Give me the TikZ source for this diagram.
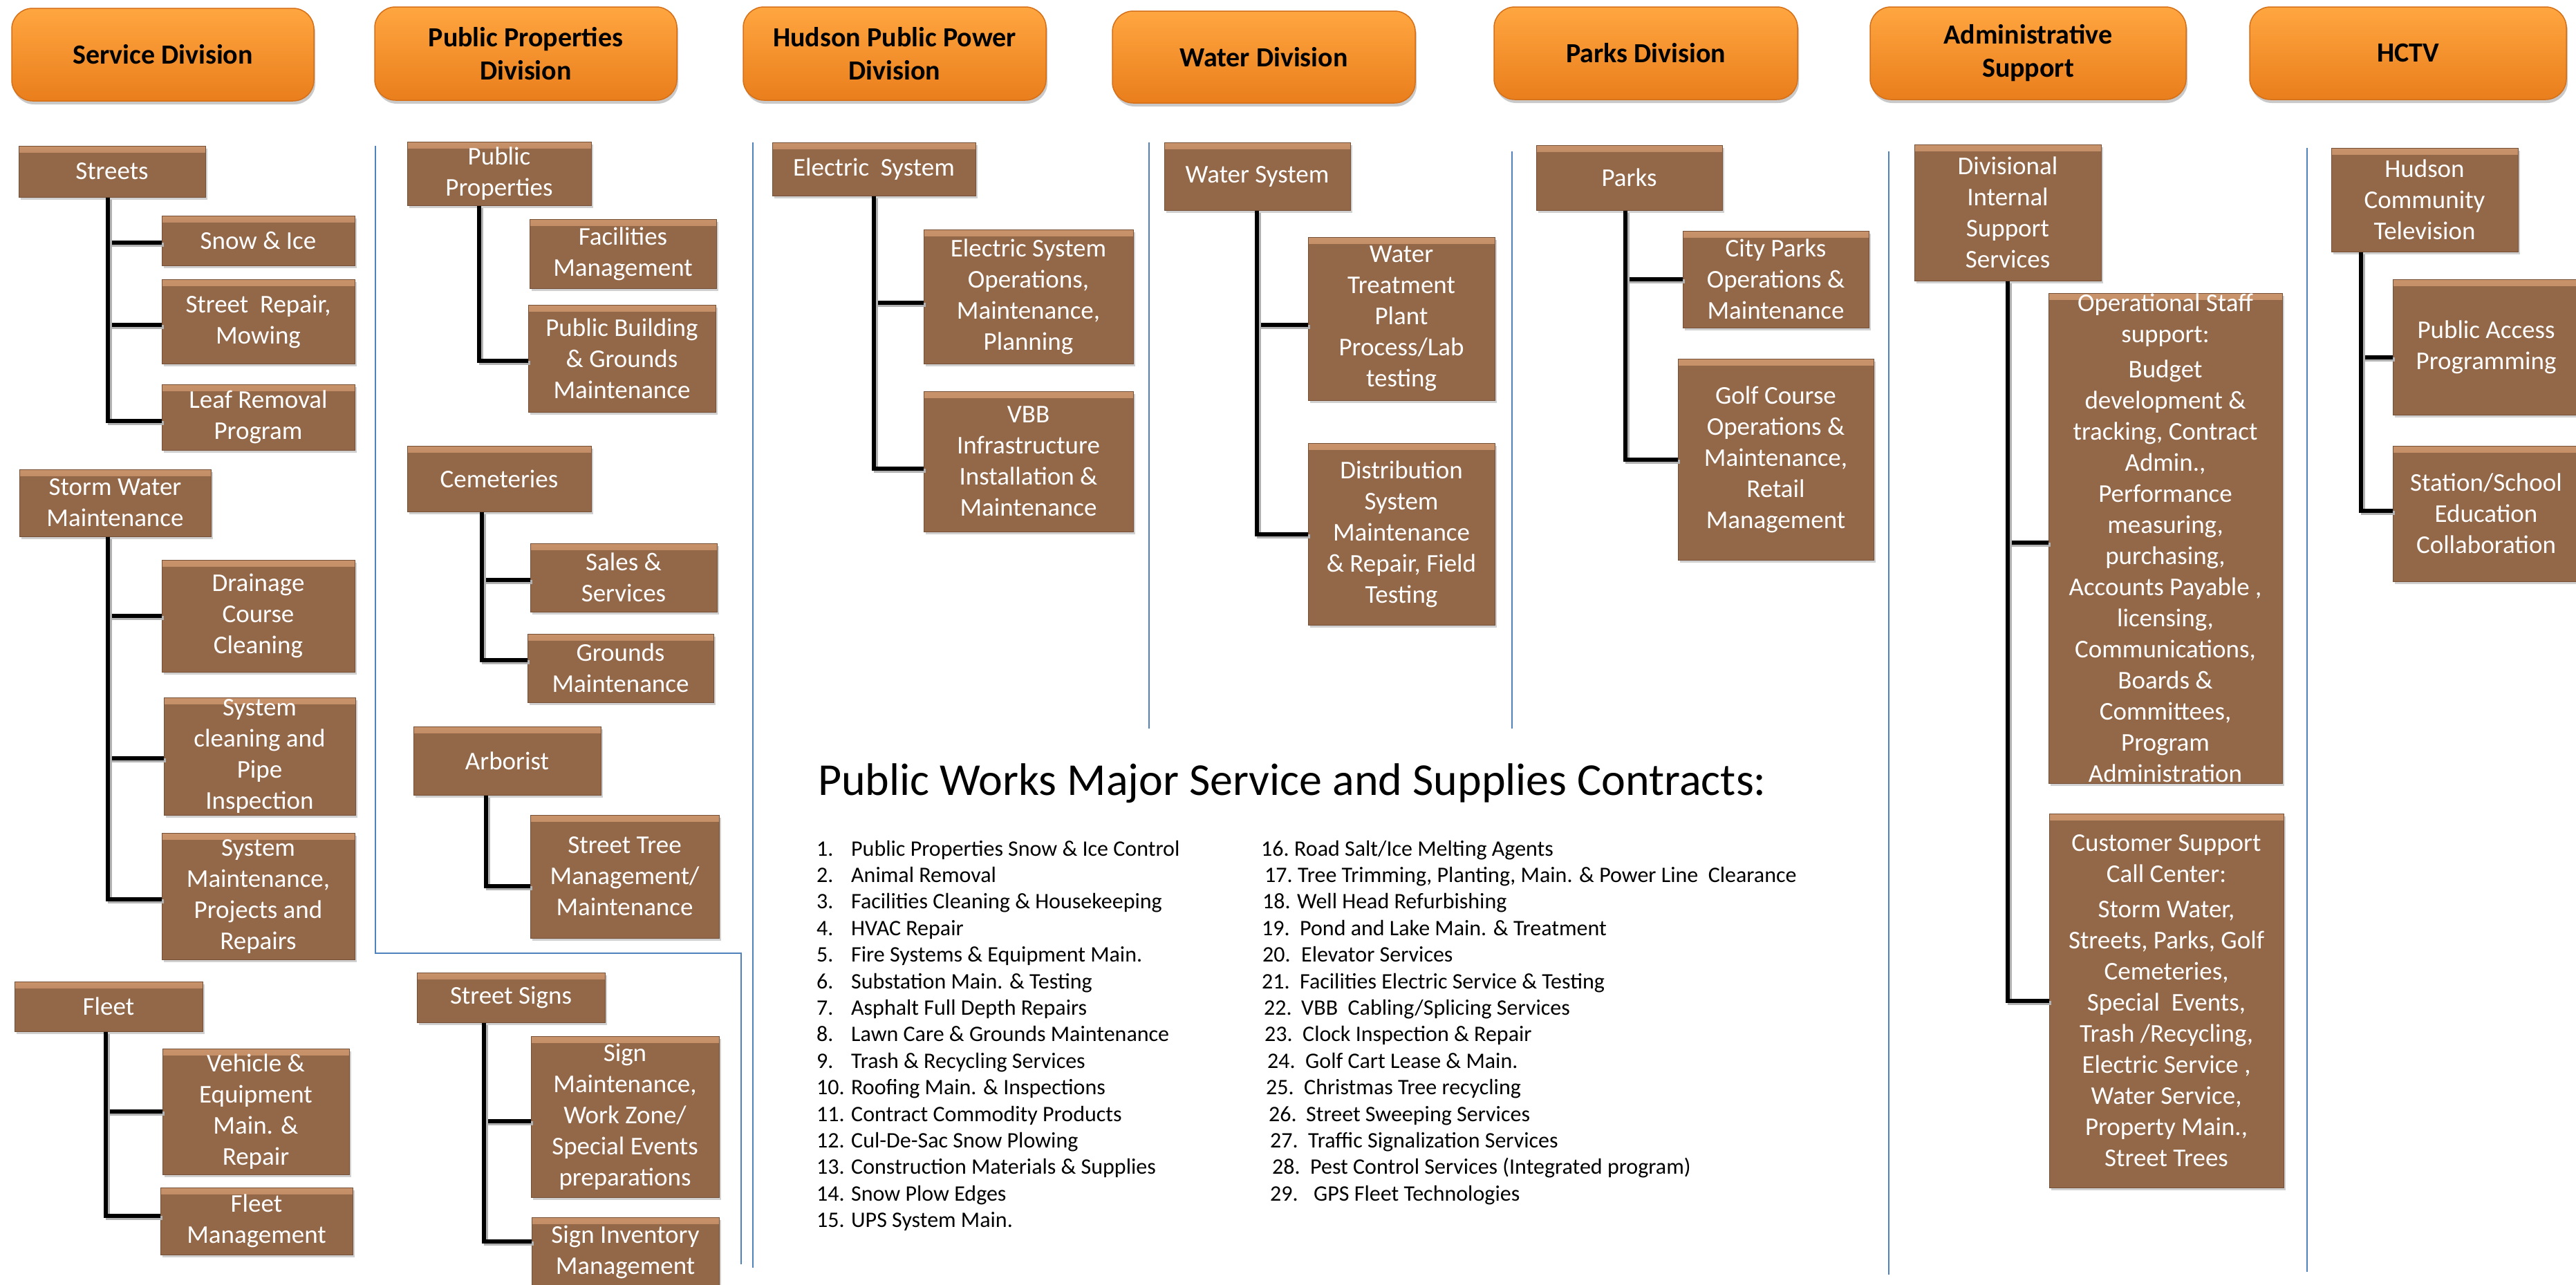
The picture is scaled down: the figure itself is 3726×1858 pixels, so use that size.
\documentclass[tikz,border=0pt]{standalone}
\usepackage{fontspec}
\setmainfont{Carlito}
\usetikzlibrary{shadows}
\definecolor{brn}{RGB}{147,104,73}
\definecolor{brnlt}{RGB}{200,146,106}
\definecolor{brnd}{RGB}{118,80,54}
\definecolor{orT}{RGB}{255,166,64}
\definecolor{orB}{RGB}{233,126,28}
\definecolor{orD}{RGB}{214,112,24}
\definecolor{sepb}{RGB}{79,129,189}
\newcommand\bx[6]{\node[bbox,minimum width={#4-#2},minimum height={#5-#3}] (#1) at ({(#2+#4)/2},{(#3+#5)/2}) {#6};}
\newcommand\hd[6]{\node[hdr,minimum width={#4-#2},minimum height={#5-#3}] (#1) at ({(#2+#4)/2},{(#3+#5)/2}) {#6};}
\newcommand\li[6]{\node[litem] (#1) at (#2,#3) {\makebox[#4pt][l]{#5}#6};}
\begin{document}
\begin{tikzpicture}[x=1pt,y=-1pt,
  bbox/.style={draw=brnd,line width=1pt,fill=brn,text=white,align=center,inner sep=0pt,
    font=\fontsize{37}{45}\selectfont,
    drop shadow={shadow xshift=3pt,shadow yshift=-4pt,opacity=.3,fill=black!60},
    path picture={\fill[top color=brnlt,bottom color=brn] (path picture bounding box.north west) rectangle ([yshift=-9pt]path picture bounding box.north east);}},
  hdr/.style={rounded corners=30pt,top color=orT,bottom color=orB,draw=orD,line width=1.5pt,
    align=center,inner sep=0pt,font=\fontsize{40}{48}\selectfont\bfseries,
    drop shadow={shadow xshift=2pt,shadow yshift=-5pt,opacity=.35,fill=black!60}},
  conn/.style={line width=6pt,black,preaction={draw=black!30,line width=6pt,transform canvas={shift={(3pt,-3pt)}}}},
  sep/.style={draw=sepb,line width=2pt},
  litem/.style={anchor=base west,inner sep=0pt,font=\fontsize{32}{38}\selectfont}]
\useasboundingbox (0,0) rectangle (3726,1858);
\fill[white] (0,0) rectangle (3726,1858);

% separators
\draw[sep] (543,211) -- (543,1379) -- (1072,1379) -- (1072,1829);
\draw[sep] (1089,206) -- (1089,1834);
\draw[sep] (1662,206) -- (1662,1054);
\draw[sep] (2187,219) -- (2187,1054);
\draw[sep] (2732,219) -- (2732,1844);
\draw[sep] (3337,214) -- (3337,1840);

% headers
\hd{h1}{17}{12}{454}{146}{Service Division}
\hd{h2}{542}{10}{979}{145}{Public Properties\\Division}
\hd{h3}{1075}{10}{1513}{145}{Hudson Public Power\\Division}
\hd{h4}{1609}{16}{2047}{149}{Water Division}
\hd{h5}{2161}{10}{2600}{144}{Parks Division}
\hd{h6}{2705}{10}{3162}{144}{Administrative\\Support}
\hd{h7}{3254}{10}{3712}{144}{HCTV}

% Service division
\bx{streets}{27}{211}{297}{285}{Streets}
\bx{snow}{234}{312}{513}{384}{Snow \& Ice}
\bx{repair}{234}{404}{513}{526}{Street~ Repair,\\Mowing}
\bx{leaf}{234}{556}{513}{651}{Leaf Removal\\Program}
\bx{storm}{28}{679}{305}{776}{Storm Water\\Maintenance}
\bx{drain}{234}{810}{513}{972}{Drainage\\Course\\Cleaning}
\bx{syscl}{237}{1009}{514}{1179}{System\\cleaning and\\Pipe\\Inspection}
\bx{sysmt}{234}{1205}{513}{1388}{System\\Maintenance,\\Projects and\\Repairs}
\bx{fleet}{21}{1420}{293}{1492}{Fleet}
\bx{vehicle}{235}{1517}{505}{1699}{Vehicle \&\\Equipment\\Main. \&\\Repair}
\bx{fleetm}{232}{1718}{510}{1815}{Fleet\\Management}

% Public properties
\bx{pubprop}{589}{205}{855}{297}{Public\\Properties}
\bx{facil}{766}{317}{1036}{417}{Facilities\\Management}
\bx{pubbldg}{764}{441}{1035}{596}{Public Building\\\& Grounds\\Maintenance}
\bx{cem}{589}{645}{855}{740}{Cemeteries}
\bx{sales}{767}{786}{1037}{885}{Sales \&\\Services}
\bx{grounds}{763}{917}{1032}{1016}{Grounds\\Maintenance}
\bx{arb}{598}{1051}{869}{1150}{Arborist}
\bx{stree}{767}{1179}{1040}{1357}{Street Tree\\Management/\\Maintenance}
\bx{ssigns}{603}{1407}{875}{1479}{Street Signs}
\bx{signmt}{768}{1499}{1040}{1732}{Sign\\Maintenance,\\Work Zone/\\Special Events\\preparations}
\bx{signinv}{769}{1761}{1040}{1862}{Sign Inventory\\Management}

% Power
\bx{elec}{1117}{206}{1411}{283}{Electric~ System}
\bx{elecops}{1336}{332}{1639}{526}{Electric System\\Operations,\\Maintenance,\\Planning}
\bx{vbb}{1336}{566}{1639}{769}{VBB\\Infrastructure\\Installation \&\\Maintenance}

% Water
\bx{water}{1684}{206}{1953}{304}{Water System}
\bx{wtreat}{1892}{343}{2162}{579}{Water\\Treatment\\Plant\\Process/Lab\\testing}
\bx{dist}{1892}{641}{2162}{904}{Distribution\\System\\Maintenance\\\& Repair, Field\\Testing}

% Parks
\bx{parks}{2222}{210}{2491}{304}{Parks}
\bx{city}{2434}{334}{2703}{474}{City Parks\\Operations \&\\Maintenance}
\bx{golf}{2427}{519}{2710}{810}{Golf Course\\Operations \&\\Maintenance,\\Retail\\Management}

% Admin
\bx{divint}{2769}{209}{3039}{406}{Divisional\\Internal\\Support\\Services}
\bx{ops}{2963}{424}{3301}{1133}{Operational Staff\\support:\\[6pt]Budget\\development \&\\tracking, Contract\\Admin.,\\Performance\\measuring,\\purchasing,\\Accounts Payable ,\\licensing,\\Communications,\\Boards \&\\Committees,\\Program\\Administration}
\bx{cust}{2964}{1177}{3303}{1718}{Customer Support\\Call Center:\\[6pt]Storm Water,\\Streets, Parks, Golf\\Cemeteries,\\Special~ Events,\\Trash /Recycling,\\Electric Service ,\\Water Service,\\Property Main.,\\Street Trees}

% HCTV
\bx{hctvb}{3372}{214}{3642}{364}{Hudson\\Community\\Television}
\bx{pubacc}{3461}{404}{3731}{600}{Public Access\\Programming}
\bx{station}{3461}{645}{3731}{841}{Station/School\\Education\\Collaboration}

% connectors
\draw[conn] ([xshift=129pt]streets.south west) |- ([yshift=-3pt]snow.west);
\draw[conn] ([xshift=129pt]streets.south west) |- ([yshift=-5pt]repair.west);
\draw[conn] ([xshift=129pt]streets.south west) |- ([yshift=-5pt]leaf.west);
\draw[conn] ([xshift=128pt]storm.south west) |- (drain.west);
\draw[conn] ([xshift=128pt]storm.south west) |- ([yshift=-3pt]syscl.west);
\draw[conn] ([xshift=128pt]storm.south west) |- ([yshift=-4pt]sysmt.west);
\draw[conn] ([xshift=132.5pt]fleet.south west) |- (vehicle.west);
\draw[conn] ([xshift=132.5pt]fleet.south west) |- ([yshift=8pt]fleetm.west);
\draw[conn] ([xshift=104pt]pubprop.south west) |- ([yshift=-3pt]pubbldg.west);
\draw[conn] ([xshift=108pt]cem.south west) |- ([yshift=-3pt]sales.west);
\draw[conn] ([xshift=108pt]cem.south west) |- ([yshift=12pt]grounds.west);
\draw[conn] ([xshift=105pt]arb.south west) |- ([yshift=-14pt]stree.west);
\draw[conn] ([xshift=97pt]ssigns.south west) |- ([yshift=-6pt]signmt.west);
\draw[conn] ([xshift=97pt]ssigns.south west) |- ([yshift=16pt]signinv.west);
\draw[conn] ([xshift=147pt]elec.south west) |- ([yshift=-9pt]elecops.west);
\draw[conn] ([xshift=147pt]elec.south west) |- ([yshift=-10pt]vbb.west);
\draw[conn] ([xshift=134pt]water.south west) |- ([yshift=-9pt]wtreat.west);
\draw[conn] ([xshift=134pt]water.south west) |- (dist.west);
\draw[conn] ([xshift=129pt]parks.south west) |- (city.west);
\draw[conn] ([xshift=129pt]parks.south west) |- (golf.west);
\draw[conn] ([xshift=135pt]divint.south west) |- ([yshift=-6pt]ops.west);
\draw[conn] ([xshift=135pt]divint.south west) |- (cust.west);
\draw[conn] ([xshift=43pt]hctvb.south west) |- ([yshift=-15pt]pubacc.west);
\draw[conn] ([xshift=43pt]hctvb.south west) |- ([yshift=4pt]station.west);

% contracts
\node[anchor=base west,inner sep=0pt,font=\fontsize{66}{79}\selectfont] (title) at (1183,1150) {Public Works Major Service and Supplies Contracts:};
\li{l1}{1181}{1238.0}{50}{1.}{Public Properties Snow \& Ice Control}
\li{l2}{1181}{1276.4}{50}{2.}{Animal Removal}
\li{l3}{1181}{1314.8}{50}{3.}{Facilities Cleaning \& Housekeeping}
\li{l4}{1181}{1353.2}{50}{4.}{HVAC Repair}
\li{l5}{1181}{1391.6}{50}{5.}{Fire Systems \& Equipment Main.}
\li{l6}{1181}{1430.0}{50}{6.}{Substation Main. \& Testing}
\li{l7}{1181}{1468.4}{50}{7.}{Asphalt Full Depth Repairs}
\li{l8}{1181}{1506.8}{50}{8.}{Lawn Care \& Grounds Maintenance}
\li{l9}{1181}{1545.2}{50}{9.}{Trash \& Recycling Services}
\li{l10}{1181}{1583.6}{50}{10.}{Roofing Main. \& Inspections}
\li{l11}{1181}{1622.0}{50}{11.}{Contract Commodity Products}
\li{l12}{1181}{1660.4}{50}{12.}{Cul-De-Sac Snow Plowing}
\li{l13}{1181}{1698.8}{50}{13.}{Construction Materials \& Supplies}
\li{l14}{1181}{1737.2}{50}{14.}{Snow Plow Edges}
\li{l15}{1181}{1775.6}{50}{15.}{UPS System Main.}
\li{l16}{1824}{1238.0}{48}{16.}{Road Salt/Ice Melting Agents}
\li{l17}{1829}{1276.4}{48}{17.}{Tree Trimming, Planting, Main. \& Power Line~ Clearance}
\li{l18}{1826}{1314.8}{50}{18.}{Well Head Refurbishing}
\li{l19}{1825}{1353.2}{55}{19.}{Pond and Lake Main. \& Treatment}
\li{l20}{1826}{1391.6}{56}{20.}{Elevator Services}
\li{l21}{1825}{1430.0}{55}{21.}{Facilities Electric Service \& Testing}
\li{l22}{1828}{1468.4}{54}{22.}{VBB~ Cabling/Splicing Services}
\li{l23}{1829}{1506.8}{55}{23.}{Clock Inspection \& Repair}
\li{l24}{1833}{1545.2}{55}{24.}{Golf Cart Lease \& Main.}
\li{l25}{1831}{1583.6}{55}{25.}{Christmas Tree recycling}
\li{l26}{1835}{1622.0}{54}{26.}{Street Sweeping Services}
\li{l27}{1837}{1660.4}{55}{27.}{Traffic Signalization Services}
\li{l28}{1840}{1698.8}{55}{28.}{Pest Control Services (Integrated program)}
\li{l29}{1837}{1737.2}{63}{29.}{GPS Fleet Technologies}
\end{tikzpicture}
\end{document}
